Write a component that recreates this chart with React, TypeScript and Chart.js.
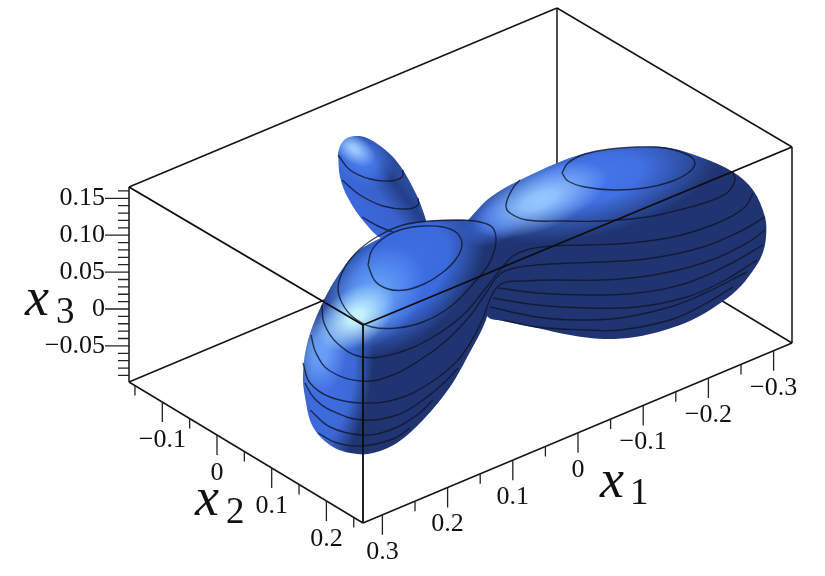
import React, { useEffect, useRef } from "react";
import { Chart, registerables } from "chart.js";

Chart.register(...registerables);

type P = [number, number];

// Tick values and labels of the three axes
const x1Major = [0.3, 0.2, 0.1, 0, -0.1, -0.2, -0.3];
const x1Minor = [0.25, 0.15, 0.05, -0.05, -0.15, -0.25];
const x1Labels = ["0.3", "0.2", "0.1", "0", "\u22120.1", "\u22120.2", "\u22120.3"];
const x2Major = [-0.1, 0, 0.1, 0.2];
const x2Minor = [-0.15, -0.05, 0.05, 0.15, 0.25];
const x2Labels = ["\u22120.1", "0", "0.1", "0.2"];
const x3Major = [0.15, 0.1, 0.05, 0, -0.05];
const x3Minor = [0.16, 0.14, 0.13, 0.12, 0.11, 0.09, 0.08, 0.07, 0.06, 0.04, 0.03, 0.02, 0.01, -0.01, -0.02, -0.03, -0.04, -0.06, -0.07, -0.08, -0.09];
const x3Labels = ["0.15", "0.10", "0.05", "0", "\u22120.05"];

// Box corners
const boxBehind: P[][] = [
  [[129, 382], [558, 202]],
  [[558, 202], [792, 343]],
  [[557, 8], [557, 202]],
];
const boxAround: P[][] = [
  [[129, 187], [557, 8]],
  [[557, 8], [792, 147]],
  [[792, 147], [792, 343]],
  [[129, 187], [129, 382]],
  [[129, 382], [363, 523]],
  [[363, 523], [792, 343]],
];
const boxFront: P[][] = [
  [[129, 187], [363, 325]],
  [[363, 325], [792, 147]],
  [[363, 325], [363, 523]],
];

// Surface silhouettes
const backLobe: P[] = [[338, 153], [341, 144], [347, 138], [357, 136], [367, 138], [379, 145], [392, 156], [403, 170], [411, 184], [418, 198], [423, 211], [427, 224], [430, 245], [385, 240], [365, 223], [348, 198], [340, 177], [338, 153]];
const rightBody: P[] = [[464, 224], [470, 218], [487, 200], [503, 189], [520, 180], [557, 163], [587, 153], [637, 147], [670, 148], [703, 158], [733, 172], [753, 190], [765, 217], [766, 237], [762, 255], [752, 272], [737, 290], [716, 306], [692, 320], [665, 330], [635, 337], [603, 339], [570, 335], [537, 328], [503, 321], [488, 317], [470, 290], [464, 224]];
const frontBody: P[] = [[382, 237], [403, 227], [430, 221], [463, 220], [482, 222], [493, 228], [497, 240], [495, 265], [491, 295], [486, 320], [470, 352], [450, 387], [423, 420], [397, 443], [373, 453], [357, 454], [333, 447], [313, 427], [305, 397], [303, 373], [308, 340], [322, 304], [337, 277], [357, 252], [382, 237]];

// Level curves on the surface
const backLevels: P[][] = [
  [[338, 155], [350, 170], [370, 179], [390, 181], [402, 177], [403, 170]],
  [[342, 180], [360, 195], [383, 206], [407, 209], [418, 205], [418, 198]],
  [[362, 217], [380, 227], [393, 232]],
];
const mainLevels: P[][] = [
  [[368, 265], [372, 250], [385, 237], [403, 229], [423, 226], [443, 227], [457, 233], [462, 245], [456, 259], [442, 273], [424, 284], [405, 290], [388, 289], [375, 281], [368, 265]],
  [[463, 220], [480, 222], [492, 227], [496, 238], [494, 252], [487, 267], [473, 284], [450, 307], [423, 322], [397, 328], [372, 327], [353, 317], [342, 303], [338, 287], [345, 267], [360, 249], [380, 235], [403, 225], [430, 221], [463, 220]],
  [[322, 305], [324, 323], [337, 343], [362, 357], [397, 353], [433, 337], [463, 315], [485, 289], [500, 270], [513, 256], [530, 249], [553, 246], [587, 245], [630, 243], [677, 236], [720, 222], [745, 207], [753, 193]],
  [[311, 335], [316, 353], [330, 371], [362, 381], [390, 376], [420, 360], [447, 340], [470, 316], [488, 290], [500, 274], [515, 268], [537, 265], [570, 263], [603, 262], [653, 258], [703, 247], [743, 230], [765, 217]],
  [[303, 363], [310, 383], [330, 397], [362, 403], [397, 399], [430, 383], [457, 361], [472, 340], [483, 318], [492, 295], [503, 283], [525, 281], [553, 280], [603, 280], [653, 275], [703, 263], [747, 243], [765, 230]],
  [[305, 383], [314, 398], [330, 410], [362, 420], [397, 415], [423, 400], [447, 380], [458, 368]],
  [[310, 410], [330, 427], [362, 435], [390, 430], [417, 415], [433, 400]],
  [[318, 433], [337, 443], [362, 446], [393, 439], [410, 428]],
  [[562, 173], [568, 163], [585, 154], [610, 149], [637, 147], [665, 148], [688, 155], [695, 163], [688, 173], [670, 182], [645, 188], [613, 190], [585, 187], [568, 181], [562, 173]],
  [[520, 180], [513, 188], [506, 205], [510, 213], [527, 220], [563, 221], [603, 221], [647, 217], [687, 208], [710, 201], [728, 192], [735, 180], [733, 172]],
  [[498, 288], [537, 293], [587, 295], [637, 293], [687, 283], [730, 264], [763, 245]],
  [[493, 298], [537, 305], [587, 308], [637, 307], [687, 297], [725, 280], [757, 260]],
  [[490, 307], [537, 317], [577, 320], [620, 318], [670, 307], [703, 294], [747, 272]],
  [[503, 320], [537, 327], [587, 330], [620, 330], [670, 320], [703, 305], [733, 287]],
];

const axisNames = [
  { name: "x", sub: "3", x: 25, y: 315, sx: 56, sy: 323 },
  { name: "x", sub: "2", x: 195, y: 515, sx: 226, sy: 523 },
  { name: "x", sub: "1", x: 600, y: 497, sx: 630, sy: 504 },
];

// Axis-to-picture mappings
const x1At = (v: number): P => { const x = 578 - 652 * v; return [x, 523 - (x - 363) * 0.4196]; };
const x2At = (v: number): P => { const x = 217 + 547 * v; return [x, 382 + (x - 129) * 0.6026]; };
const x3At = (v: number): P => [129, 309 - 738 * v];

const toPts = (a: P[]) => a.map(([x, y]) => ({ x, y }));
const joined = (segs: P[][]) => {
  const out: { x: number; y: number }[] = [];
  segs.forEach((s) => { out.push(...toPts(s), { x: NaN, y: NaN }); });
  return out;
};
const downTicks = (vals: number[], at: (v: number) => P, len: number): P[][] =>
  vals.map((v) => { const [x, y] = at(v); return [[x, y], [x, y + len]] as P[]; });
const leftTicks = (vals: number[], at: (v: number) => P, len: number): P[][] =>
  vals.map((v) => { const [x, y] = at(v); return [[x - len, y], [x, y]] as P[]; });

type Stop = [number, string];
function glow(c: CanvasRenderingContext2D, cx: number, cy: number, rx: number, ry: number, deg: number, stops: Stop[]) {
  c.save();
  c.translate(cx, cy);
  c.rotate((deg * Math.PI) / 180);
  c.scale(rx, ry);
  const g = c.createRadialGradient(0, 0, 0, 0, 0, 1);
  stops.forEach(([o, col]) => g.addColorStop(o, col));
  c.fillStyle = g;
  c.beginPath();
  c.arc(0, 0, 1, 0, Math.PI * 2);
  c.fill();
  c.restore();
}
const soft = (r: number, g: number, b: number, a = 1, hold = 0.45): Stop[] => [
  [0, `rgba(${r},${g},${b},${a})`],
  [hold, `rgba(${r},${g},${b},${a * 0.9})`],
  [1, `rgba(${r},${g},${b},0)`],
];

function layer(paint: (c: CanvasRenderingContext2D) => void, target: CanvasRenderingContext2D) {
  const cv = document.createElement("canvas");
  cv.width = 825;
  cv.height = 576;
  const c = cv.getContext("2d")!;
  paint(c);
  return target.createPattern(cv, "no-repeat")!;
}

function paintMain(c: CanvasRenderingContext2D) {
  c.fillStyle = "#1f3470";
  c.fillRect(0, 0, 825, 576);
  // right lobe and neck
  glow(c, 590, 180, 135, 56, -14, soft(68, 118, 238, 1, 0.4));
  glow(c, 497, 218, 40, 24, -30, soft(58, 104, 218, 1, 0.4));
  glow(c, 540, 200, 72, 30, -22, soft(150, 200, 255, 1, 0.25));
  // front lobe
  glow(c, 402, 272, 102, 64, -45, soft(62, 112, 232, 1, 0.55));
  glow(c, 330, 388, 96, 40, -78, soft(64, 110, 226, 1, 0.55));
  glow(c, 320, 350, 28, 46, 8, soft(115, 170, 255, 0.85, 0.3));
  glow(c, 372, 297, 60, 44, -45, soft(105, 165, 250, 0.9, 0.3));
  glow(c, 356, 317, 44, 28, -35, soft(205, 248, 255, 1, 0.2));
}

function paintBack(c: CanvasRenderingContext2D) {
  const g = c.createLinearGradient(345, 195, 389, 162);
  g.addColorStop(0, "#3b68dc");
  g.addColorStop(0.5, "#3a62cc");
  g.addColorStop(0.85, "#233f8a");
  g.addColorStop(1, "#2a4a9c");
  c.fillStyle = g;
  c.fillRect(0, 0, 825, 576);
  glow(c, 362, 158, 36, 26, 40, soft(70, 120, 235, 1, 0.4));
  glow(c, 354, 149, 24, 14, 35, soft(160, 205, 255, 1, 0.2));
}

const textPlugin = {
  id: "axisText",
  afterDraw(chart: any) {
    const c: CanvasRenderingContext2D = chart.ctx;
    c.save();
    c.fillStyle = "#111";
    c.textBaseline = "middle";
    c.font = "26px 'Liberation Serif'";
    c.textAlign = "right";
    x3Major.forEach((v, i) => {
      const [x, y] = x3At(v);
      c.fillText(x3Labels[i], x - 24, y);
    });
    c.textAlign = "center";
    x2Major.forEach((v, i) => {
      const [x, y] = x2At(v);
      c.fillText(x2Labels[i], x, y + 38);
    });
    x1Major.forEach((v, i) => {
      const [x, y] = x1At(v);
      c.fillText(x1Labels[i], x, y + 37);
    });
    c.textBaseline = "alphabetic";
    c.textAlign = "left";
    axisNames.forEach((a) => {
      c.font = "italic 54px 'Liberation Serif'";
      c.fillText(a.name, a.x, a.y);
      c.font = "37px 'Liberation Serif'";
      c.fillText(a.sub, a.sx, a.sy);
    });
    c.restore();
  },
};

export default function App() {
  const ref = useRef<HTMLCanvasElement>(null);
  useEffect(() => {
    const ctx = ref.current!.getContext("2d")!;
    const ink = "#141414";
    const levelInk = "rgba(14,22,44,0.8)";
    const straight = (data: any[], w: number, color = ink) => ({
      data, borderColor: color, borderWidth: w, showLine: true, pointRadius: 0, tension: 0, spanGaps: false, fill: false,
    });
    const curve = (pts: P[]) => ({
      data: toPts(pts), borderColor: levelInk, borderWidth: 1.4, showLine: true, pointRadius: 0, tension: 0.4, fill: false,
    });
    const surface = (pts: P[], pattern: CanvasPattern) => ({
      data: toPts(pts), borderColor: "rgba(0,0,0,0)", borderWidth: 0, backgroundColor: pattern, showLine: true, pointRadius: 0, tension: 0.35, fill: "shape",
    });
    const mainPattern = layer(paintMain, ctx);
    const list: any[] = [
      straight(joined(boxBehind), 1.5),
      surface(backLobe, layer(paintBack, ctx)),
      ...backLevels.map(curve),
      surface(rightBody, mainPattern),
      surface(frontBody, mainPattern),
      ...mainLevels.map(curve),
      straight(joined(boxFront), 1.8, "#0c0c0c"),
      straight(joined(boxAround), 1.5),
      straight(joined([
        ...downTicks(x1Major, x1At, 20), ...downTicks(x1Minor, x1At, 10),
        ...downTicks(x2Major, x2At, 20), ...downTicks(x2Minor, x2At, 10),
        ...leftTicks(x3Major, x3At, 24), ...leftTicks(x3Minor, x3At, 11),
      ]), 1.3, "#222"),
    ];
    list.forEach((d, i) => { d.order = -i; });
    const chart = new Chart(ctx, {
      type: "scatter",
      data: { datasets: list },
      plugins: [textPlugin],
      options: {
        animation: false,
        responsive: false,
        layout: { padding: 0 },
        plugins: { legend: { display: false }, tooltip: { enabled: false } },
        scales: {
          x: { type: "linear", min: 0, max: 825, display: false },
          y: { type: "linear", min: 0, max: 576, reverse: true, display: false },
        },
      },
    });
    return () => chart.destroy();
  }, []);
  return (
    <div style={{ position: "absolute", left: 0, top: 0, width: 825, height: 576, background: "#fff" }}>
      <canvas ref={ref} width={825} height={576} style={{ display: "block" }} />
    </div>
  );
}
